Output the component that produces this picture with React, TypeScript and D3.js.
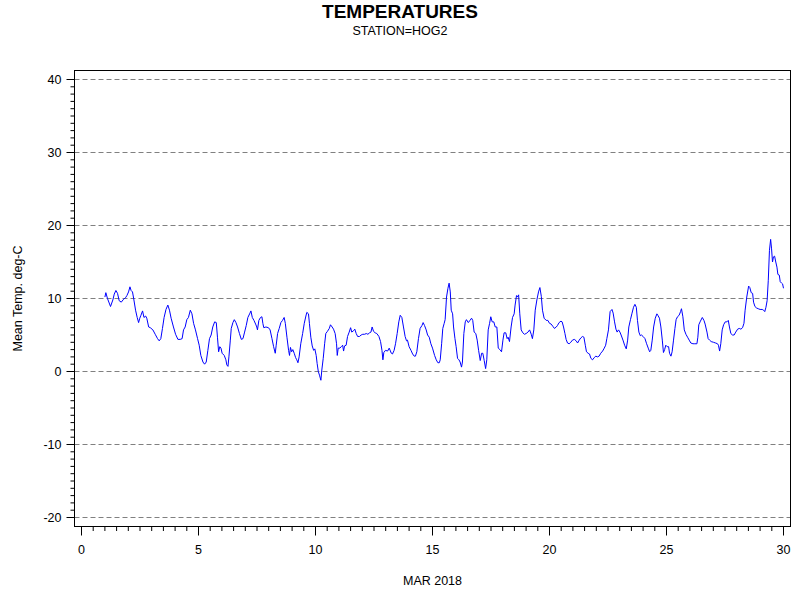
import React from "react";
import * as d3 from "d3";

const TITLE = "TEMPERATURES";
const SUBTITLE = "STATION=HOG2";
const X_LABEL = "MAR 2018";
const Y_LABEL = "Mean Temp. deg-C";
const X_TICKS = [0, 5, 10, 15, 20, 25, 30];
const Y_TICKS = [-20, -10, 0, 10, 20, 30, 40];

// [day of March, mean temperature °C]
const week1: [number, number][] = [
  [1.00,10.2],[1.04,10.8],[1.11,10.0],[1.24,8.9],[1.34,9.8],[1.40,10.6],[1.47,11.1],[1.54,10.7],[1.61,9.7],[1.70,9.5],[1.80,9.9],[1.88,10.1],[1.94,10.4],[2.01,10.9],[2.07,11.6],[2.12,11.1],[2.18,10.9],[2.24,9.8],[2.31,8.4],[2.38,7.4],[2.44,6.7],[2.49,7.3],[2.54,7.7],[2.61,8.3],[2.67,7.4],[2.74,7.6],[2.79,7.3],[2.87,6.1],[2.94,6.0],[3.05,5.7],[3.15,5.1],[3.25,4.5],[3.32,4.2],[3.39,4.5],[3.46,5.9],[3.53,7.4],[3.61,8.5],[3.69,9.1],[3.76,8.4],[3.83,7.3],[3.93,6.1],[4.02,5.1],[4.12,4.4],[4.22,4.4],[4.30,4.5],[4.36,5.7],[4.43,6.1],[4.50,7.1],[4.57,7.4],[4.65,8.4],[4.72,7.9],[4.79,6.6],[4.87,5.7],[4.96,4.5],[5.03,3.6],[5.10,2.2],[5.19,1.3],[5.26,1.0],[5.33,1.3],[5.40,2.9],[5.47,4.5],[5.54,5.0],[5.61,6.1],[5.69,6.8],[5.76,6.7],[5.81,4.7],[5.86,2.7],[5.91,3.4],[5.96,3.2],[6.01,2.5],[6.10,2.2],[6.17,1.6],[6.21,0.9],[6.26,0.7],[6.30,2.0],[6.36,4.3],[6.40,5.9],[6.47,6.7],[6.53,7.1],[6.60,6.7],[6.67,6.1],[6.75,5.2],[6.83,4.4],[6.90,4.5],[6.97,5.4],[7.04,6.3],[7.11,7.4],[7.20,8.0],[7.24,8.3],[7.30,7.4],[7.37,7.0],[7.44,6.5],[7.49,6.1],[7.52,5.7],[7.58,7.0],[7.65,7.4],[7.71,7.5],[7.75,6.6],[7.79,6.0],[7.88,6.1],[7.99,6.0]
];
const week2: [number, number][] = [
  [8.06,5.7],[8.14,4.5],[8.21,3.4],[8.28,2.5],[8.32,3.6],[8.38,5.2],[8.45,5.9],[8.52,6.7],[8.59,7.0],[8.66,7.4],[8.71,6.6],[8.78,4.7],[8.85,2.9],[8.89,2.2],[8.93,3.3],[8.98,2.7],[9.03,3.0],[9.09,2.5],[9.15,1.9],[9.20,1.6],[9.25,1.2],[9.30,2.0],[9.37,3.8],[9.45,5.2],[9.52,6.6],[9.59,7.6],[9.63,8.1],[9.70,7.9],[9.74,6.6],[9.80,4.7],[9.86,3.5],[9.92,2.9],[9.97,3.1],[10.03,2.2],[10.07,1.1],[10.12,0.0],[10.17,-0.5],[10.23,-1.2],[10.27,0.2],[10.33,1.8],[10.39,3.8],[10.44,5.2],[10.51,5.5],[10.59,5.9],[10.64,6.4],[10.71,6.1],[10.77,5.8],[10.84,5.2],[10.90,3.8],[10.93,2.2],[10.97,3.2],[11.04,3.2],[11.10,3.4],[11.16,3.6],[11.20,2.8],[11.24,3.5],[11.31,3.6],[11.37,4.8],[11.44,5.4],[11.50,6.0],[11.55,5.4],[11.63,5.6],[11.68,5.8],[11.74,5.2],[11.80,4.8],[11.88,4.8],[11.95,5.0],[12.02,5.1],[12.10,5.1],[12.17,5.2],[12.24,5.1],[12.31,5.3],[12.37,5.4],[12.42,6.1],[12.48,5.5],[12.55,5.3],[12.62,5.2],[12.71,4.8],[12.78,4.1],[12.84,2.9],[12.88,1.6],[12.92,2.6],[12.99,2.9],[13.08,2.8],[13.15,3.2],[13.24,2.5],[13.29,2.4],[13.36,2.9],[13.42,3.8],[13.49,5.2],[13.56,6.8],[13.62,7.7],[13.69,7.4],[13.76,6.1],[13.83,4.8],[13.89,4.2],[13.93,4.3],[14.00,3.4],[14.08,2.9],[14.15,2.4],[14.22,2.1],[14.27,2.1],[14.33,2.7],[14.40,4.5],[14.47,5.9],[14.55,6.3],[14.60,6.7],[14.66,6.3],[14.73,5.7],[14.79,5.0],[14.86,4.7],[14.93,3.8],[15.00,3.2],[15.09,2.2],[15.16,1.6],[15.23,1.2],[15.29,1.2]
];
const week3: [number, number][] = [
  [15.33,1.6],[15.39,3.8],[15.44,5.9],[15.50,6.6],[15.54,7.1],[15.60,10.2],[15.66,11.4],[15.71,12.1],[15.76,10.9],[15.80,8.4],[15.86,7.9],[15.90,6.1],[15.96,4.5],[16.01,3.4],[16.07,1.8],[16.13,1.6],[16.18,1.3],[16.24,0.6],[16.28,1.3],[16.34,5.2],[16.40,6.8],[16.45,7.1],[16.53,6.7],[16.60,7.0],[16.67,7.3],[16.72,7.0],[16.78,5.4],[16.85,5.2],[16.91,4.3],[16.97,2.9],[17.04,1.5],[17.10,2.5],[17.15,2.5],[17.21,1.5],[17.27,0.4],[17.32,1.6],[17.38,5.7],[17.44,6.6],[17.49,7.5],[17.55,6.8],[17.62,6.8],[17.68,6.1],[17.75,6.1],[17.81,3.2],[17.88,3.0],[17.95,2.7],[18.01,4.3],[18.06,5.3],[18.13,5.3],[18.19,4.5],[18.23,4.7],[18.29,4.1],[18.36,6.1],[18.42,7.4],[18.49,7.9],[18.53,9.1],[18.59,10.4],[18.63,10.2],[18.68,10.5],[18.73,7.9],[18.79,5.7],[18.86,5.3],[18.93,5.1],[19.00,5.2],[19.08,5.4],[19.15,5.7],[19.22,5.1],[19.27,4.5],[19.33,5.7],[19.39,8.4],[19.46,9.8],[19.53,10.9],[19.59,11.5],[19.65,10.3],[19.70,8.4],[19.77,7.3],[19.86,7.0],[19.93,7.0],[20.00,6.6],[20.07,6.5],[20.14,6.2],[20.21,5.9],[20.29,6.1],[20.34,6.3],[20.41,6.7],[20.49,6.9],[20.54,6.8],[20.60,6.1],[20.66,5.2],[20.71,4.4],[20.77,3.9],[20.84,3.8],[20.91,4.0],[20.98,4.3],[21.06,4.4],[21.14,4.2],[21.20,3.9],[21.27,4.3],[21.34,4.6],[21.41,4.8],[21.47,4.7],[21.53,3.6],[21.58,2.7],[21.65,2.5],[21.71,2.4],[21.77,1.8],[21.84,1.6],[21.91,1.9],[21.98,2.1],[22.05,2.0],[22.12,2.1],[22.19,2.5],[22.27,2.8],[22.34,3.2],[22.40,3.6],[22.45,4.5],[22.52,5.7]
];
const week4: [number, number][] = [
  [22.59,8.2],[22.67,8.5],[22.72,8.0],[22.78,6.8],[22.84,5.8],[22.89,5.4],[22.95,5.7],[23.01,5.4],[23.06,5.0],[23.14,4.3],[23.21,3.6],[23.28,3.1],[23.34,4.3],[23.39,6.1],[23.46,7.1],[23.52,7.9],[23.59,8.8],[23.65,9.2],[23.71,8.8],[23.76,7.0],[23.82,5.4],[23.88,4.9],[23.93,5.0],[24.00,4.8],[24.08,4.5],[24.15,3.8],[24.22,3.2],[24.28,2.7],[24.33,2.9],[24.39,4.3],[24.45,6.1],[24.52,7.3],[24.59,7.9],[24.63,7.7],[24.70,7.3],[24.76,6.1],[24.82,4.3],[24.87,2.6],[24.92,3.0],[24.97,3.6],[25.03,3.4],[25.09,3.4],[25.13,2.5],[25.19,2.1],[25.24,2.7],[25.30,4.3],[25.36,5.9],[25.41,7.1],[25.47,7.5],[25.54,7.7],[25.60,8.2],[25.64,8.6],[25.70,7.5],[25.76,5.7],[25.83,5.1],[25.90,4.7],[25.97,4.3],[26.04,3.9],[26.13,3.8],[26.21,3.8],[26.30,3.8],[26.34,4.7],[26.38,6.4],[26.45,6.9],[26.53,7.4],[26.60,7.0],[26.65,6.5],[26.73,5.4],[26.78,4.5],[26.84,4.3],[26.91,4.1],[27.01,4.0],[27.10,3.9],[27.18,3.8],[27.22,3.6],[27.27,2.8],[27.32,3.8],[27.38,5.7],[27.44,6.4],[27.51,6.8],[27.58,6.8],[27.64,7.0],[27.69,6.1],[27.75,5.2],[27.82,5.0],[27.89,5.0],[27.96,5.4],[28.04,5.8],[28.11,5.9],[28.18,5.8],[28.25,6.0],[28.31,6.6],[28.36,8.4],[28.43,10.2],[28.51,11.7],[28.56,11.5],[28.62,10.8],[28.68,10.7],[28.72,9.5],[28.78,8.9],[28.85,8.7],[28.92,8.6],[29.00,8.5],[29.09,8.5],[29.15,8.4],[29.20,8.2],[29.25,8.8],[29.30,9.7],[29.35,12.5],[29.40,16.6],[29.45,18.1],[29.49,16.8],[29.53,15.0],[29.57,15.7],[29.62,15.8],[29.67,15.0],[29.72,14.3],[29.76,13.3],[29.82,13.2],[29.86,12.3],[29.92,12.1],[29.96,12.0],[30.00,11.4]
];

const FONT = "'Liberation Sans', Arial, sans-serif";

export default function App() {
  const frameL = 74.5, frameR = 790.5, frameT = 70.5, frameB = 526.5;
  const x = d3.scaleLinear().domain([0, 30]).range([81.5, 783.5]);
  const y = d3.scaleLinear().domain([-20, 40]).range([517.5, 79.5]);
  const data = [...week1, ...week2, ...week3, ...week4];
  const line = d3.line<[number, number]>().x((d) => x(d[0])).y((d) => y(d[1]));

  const xMinor = d3.range(0, 30.01, 0.5).filter((v) => Math.abs(v % 5) > 1e-6);
  const yMinor = d3.range(-20, 40.01, 1).filter((v) => Math.abs(v % 10) > 1e-6);
  const cx = (frameL + frameR) / 2;
  const cy = (frameT + frameB) / 2;

  return (
    <svg width={800} height={600} style={{ position: "absolute", left: 0, top: 0, background: "#fff" }} fontFamily={FONT}>
      <rect x={0} y={0} width={800} height={600} fill="#fff" />
      <text x={400} y={18} textAnchor="middle" fontSize={19} fontWeight="bold" fill="#000">{TITLE}</text>
      <text x={400} y={35} textAnchor="middle" fontSize={12.5} fill="#000">{SUBTITLE}</text>

      {Y_TICKS.map((v) => (
        <line key={"g" + v} x1={frameL} x2={frameR} y1={y(v)} y2={y(v)} stroke="#808080" strokeWidth={1} strokeDasharray="5,3" />
      ))}

      <path d={line(data) || ""} fill="none" stroke="#0000ff" strokeWidth={1} strokeLinejoin="round" />

      <rect x={frameL} y={frameT} width={frameR - frameL} height={frameB - frameT} fill="none" stroke="#000" strokeWidth={1} />

      {Y_TICKS.map((v) => (
        <g key={"yt" + v}>
          <line x1={frameL - 8} x2={frameL} y1={y(v)} y2={y(v)} stroke="#000" />
          <text x={frameL - 13} y={y(v) + 4.5} textAnchor="end" fontSize={12.5} fill="#000">{v}</text>
        </g>
      ))}
      {yMinor.map((v) => (
        <line key={"ym" + v} x1={frameL - 4} x2={frameL} y1={y(v)} y2={y(v)} stroke="#000" />
      ))}

      {X_TICKS.map((v) => (
        <g key={"xt" + v}>
          <line x1={x(v)} x2={x(v)} y1={frameB} y2={frameB + 9} stroke="#000" />
          <text x={x(v)} y={554} textAnchor="middle" fontSize={12.5} fill="#000">{v}</text>
        </g>
      ))}
      {xMinor.map((v) => (
        <line key={"xm" + v} x1={x(v)} x2={x(v)} y1={frameB} y2={frameB + 4.5} stroke="#000" />
      ))}

      <text x={cx} y={585} textAnchor="middle" fontSize={12.5} fill="#000">{X_LABEL}</text>
      <text transform={`translate(22, ${cy}) rotate(-90)`} textAnchor="middle" fontSize={12.5} fill="#000">{Y_LABEL}</text>
    </svg>
  );
}
